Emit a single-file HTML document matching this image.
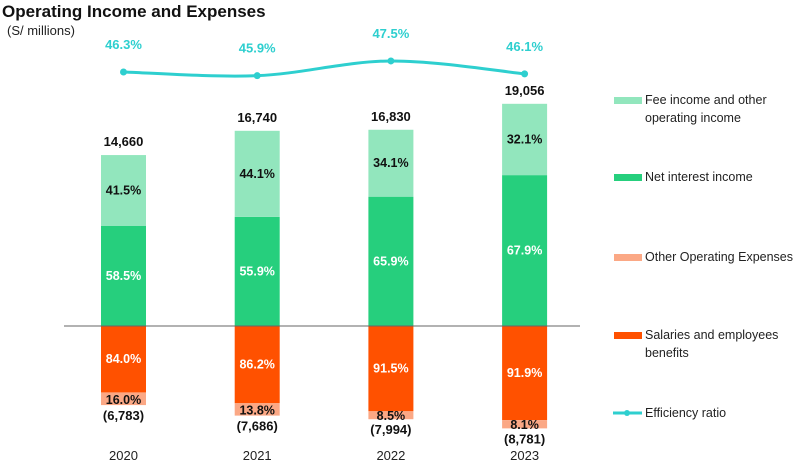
<!DOCTYPE html>
<html><head><meta charset="utf-8"><style>
body{margin:0;background:#fff;font-family:"Liberation Sans",sans-serif}
svg text{font-family:"Liberation Sans",sans-serif}
</style></head><body>
<svg id="c" width="800" height="468" viewBox="0 0 800 468" xmlns="http://www.w3.org/2000/svg">
<text x="2" y="17" font-size="17" font-weight="bold" fill="#111">Operating Income and Expenses</text>
<text x="7" y="35" font-size="13" fill="#222">(S/ millions)</text>
<g id="bars"></g>
<line x1="64" y1="326" x2="580" y2="326" stroke="#666" stroke-width="1"/>
<g id="line"></g>
<g id="legend"></g>
</svg>
<script>
const years=["2020","2021","2022","2023"];
const incomeTotal=[14660,16740,16830,19056];
const feePct=[41.5,44.1,34.1,32.1];
const nimPct=[58.5,55.9,65.9,67.9];
const expTotal=[6783,7686,7994,8781];
const salPct=[84.0,86.2,91.5,91.9];
const othPct=[16.0,13.8,8.5,8.1];
const effRatio=[46.3,45.9,47.5,46.1];

const C={fee:"#92e6bd",nim:"#26cf7d",oth:"#fba885",sal:"#ff5100",eff:"#2ecfcf"};
const NS="http://www.w3.org/2000/svg";
const base=326,scale=0.01166,bw=45;
const xC=i=>123.5+i*133.7;
const yV=v=>base-v*scale;
const yR=r=>72-(r-46.3)*9.2;
const fmt=n=>n.toLocaleString("en-US");
function mk(tag,attrs,parent,txt){const e=document.createElementNS(NS,tag);for(const k in attrs)e.setAttribute(k,attrs[k]);if(txt!=null)e.textContent=txt;parent.appendChild(e);return e;}
const gb=document.getElementById("bars");
years.forEach((y,i)=>{
  const x=xC(i)-bw/2,cx=xC(i);
  const nimV=incomeTotal[i]*nimPct[i]/100,feeV=incomeTotal[i]*feePct[i]/100;
  let r=mk("rect",{x:x,y:yV(nimV),width:bw,height:base-yV(nimV),fill:C.nim},gb);
  
  r=mk("rect",{x:x,y:yV(nimV+feeV),width:bw,height:yV(nimV)-yV(nimV+feeV),fill:C.fee},gb);
  
  const salV=expTotal[i]*salPct[i]/100,othV=expTotal[i]*othPct[i]/100;
  r=mk("rect",{x:x,y:base,width:bw,height:salV*scale,fill:C.sal},gb);
  
  r=mk("rect",{x:x,y:base+salV*scale,width:bw,height:othV*scale,fill:C.oth},gb);
  
  const lab=(tx,ty,t,fill,nm,sz)=>{const e=mk("text",{x:tx,y:ty,"text-anchor":"middle","font-size":sz||12.5,"font-weight":"bold",fill:fill},gb,t);};
  lab(cx,(yV(nimV)+base)/2+4,nimPct[i].toFixed(1)+"%","#fff","label-nim-"+y);
  lab(cx,(yV(nimV)+yV(nimV+feeV))/2+4,feePct[i].toFixed(1)+"%","#111","label-fee-"+y);
  lab(cx,yV(incomeTotal[i])-9,fmt(incomeTotal[i]),"#111","label-income-total-"+y,13);
  lab(cx,base+salV*scale/2+4,salPct[i].toFixed(1)+"%","#fff","label-salaries-"+y);
  lab(cx,base+(salV+othV/2)*scale+5,othPct[i].toFixed(1)+"%","#111","label-other-"+y);
  lab(cx,base+expTotal[i]*scale+15,"("+fmt(expTotal[i])+")","#111","label-expense-total-"+y,13);
  const t=mk("text",{x:cx,y:460,"text-anchor":"middle","font-size":13,fill:"#222"},gb,y);
  
});
const gl=document.getElementById("line");
const pts=effRatio.map((r,i)=>[xC(i),yR(r)]);
let d="M"+pts[0][0]+","+pts[0][1];
for(let i=0;i<pts.length-1;i++){const p0=pts[Math.max(0,i-1)],p1=pts[i],p2=pts[i+1],p3=pts[Math.min(pts.length-1,i+2)];
d+=` C${p1[0]+(p2[0]-p0[0])/6},${p1[1]+(p2[1]-p0[1])/6} ${p2[0]-(p3[0]-p1[0])/6},${p2[1]-(p3[1]-p1[1])/6} ${p2[0]},${p2[1]}`;}
const pl=mk("path",{d:d,fill:"none",stroke:C.eff,"stroke-width":3},gl);

pts.forEach((p,i)=>{
  const c=mk("circle",{cx:p[0],cy:p[1],r:3.5,fill:C.eff},gl);
  
  const t=mk("text",{x:p[0],y:p[1]-23,"text-anchor":"middle","font-size":13,"font-weight":"bold",fill:C.eff},gl,effRatio[i].toFixed(1)+"%");
  
});
const lg=document.getElementById("legend");
const items=[["Fee income and other","operating income",C.fee,100,"legend-fee-income"],["Net interest income","",C.nim,177,"legend-net-interest"],["Other Operating Expenses","",C.oth,257,"legend-other-expenses"],["Salaries and employees","benefits",C.sal,335,"legend-salaries"],["Efficiency ratio","",C.eff,413,"legend-efficiency"]];
items.forEach((it,k)=>{
  const g=mk("g",{},lg);
  if(k===4){mk("line",{x1:613,y1:it[3],x2:642,y2:it[3],stroke:it[2],"stroke-width":3},g);mk("circle",{cx:627,cy:it[3],r:3,fill:it[2]},g);}
  else mk("rect",{x:614,y:it[3]-3,width:28,height:7,fill:it[2]},g);
  mk("text",{x:645,y:it[3]+4,"font-size":12.5,fill:"#222"},g,it[0]);
  if(it[1])mk("text",{x:645,y:it[3]+22,"font-size":12.5,fill:"#222"},g,it[1]);
});
</script>
</body></html>
